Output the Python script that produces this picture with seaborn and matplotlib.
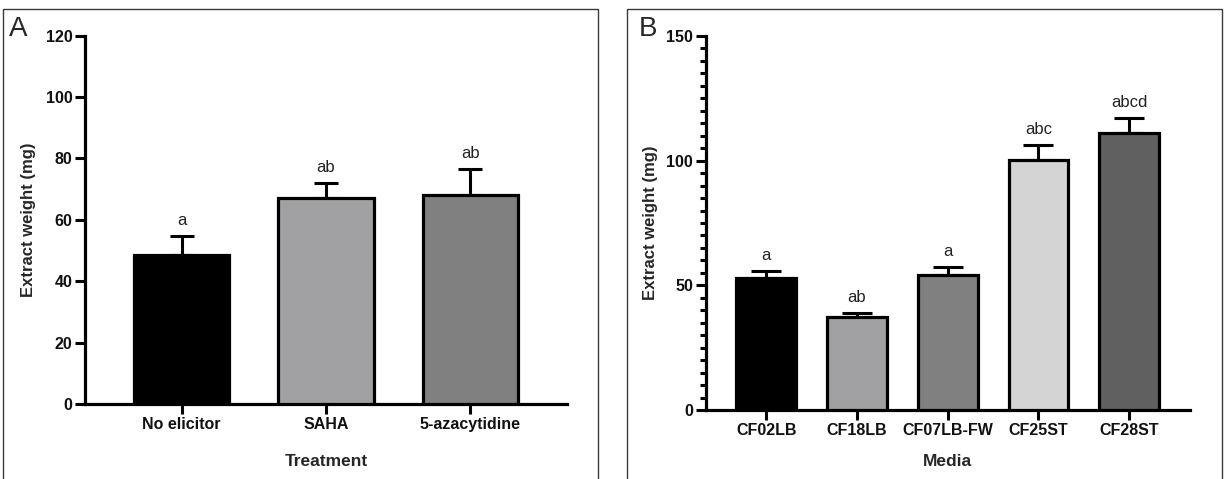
import matplotlib
matplotlib.use("Agg")
import matplotlib.pyplot as plt
from matplotlib.patches import Rectangle
from matplotlib.ticker import MultipleLocator
from matplotlib import font_manager
import seaborn as sns
import pandas as pd

# ---------------- data ----------------
treatments = ["No elicitor", "SAHA", "5-azacytidine"]
treat_means = [48.6, 67.1, 68.0]
treat_err = [6.1, 4.9, 8.7]
treat_letters = ["a", "ab", "ab"]
treat_colors = ["#000000", "#a1a0a5", "#808080"]

media = ["CF02LB", "CF18LB", "CF07LB-FW", "CF25ST", "CF28ST"]
media_means = [52.9, 37.4, 54.1, 100.4, 111.0]
media_err = [2.9, 1.6, 3.2, 5.8, 6.1]
media_letters = ["a", "ab", "a", "abc", "abcd"]
media_colors = ["#000000", "#a1a0a5", "#808080", "#d4d4d4", "#606060"]

yticks_a = [0, 20, 40, 60, 80, 100, 120]
yticks_b = [0, 50, 100, 150]

# ---------------- style ----------------
sns.set_theme(style="ticks")
names = {f.name for f in font_manager.fontManager.ttflist}
narrow = "Liberation Sans Narrow" if "Liberation Sans Narrow" in names else "Liberation Sans"
plt.rcParams["font.family"] = ["Liberation Sans", "DejaVu Sans"]

W, H = 1225, 479
fig = plt.figure(figsize=(W / 100, H / 100), dpi=100)

def px_axes(l, r, b, t):
    return [l / W, 1 - b / H, (r - l) / W, (b - t) / H]

A_BOX = (85, 567, 404.3, 35.5)
B_BOX = (705.5, 1190, 410.3, 35.7)
ax_a = fig.add_axes(px_axes(*A_BOX))
ax_b = fig.add_axes(px_axes(*B_BOX))

def draw(ax, box, cats, means, errs, letters, colors, yticks, ylabel, xlabel,
         capsize, ylab_x, xlab_y, minor=None):
    l, r, b, t = box
    df = pd.DataFrame({"cat": cats, "val": means})
    sns.barplot(data=df, x="cat", y="val", hue="cat", palette=colors, legend=False,
                width=0.66, edgecolor="black", linewidth=2.3, errorbar=None, ax=ax,
                zorder=3)
    ax.errorbar(range(len(cats)), means, yerr=[[0] * len(errs), errs], fmt="none",
                ecolor="black", elinewidth=2.2, capsize=capsize, capthick=2.2, zorder=2)
    for i, (m, e, lab) in enumerate(zip(means, errs, letters)):
        ax.annotate(lab, (i, m + e), xytext=(0, 11), textcoords="offset points",
                    ha="center", va="center", fontsize=12, color="#222222")
    ax.set_xlim(-0.67, len(cats) - 1 + 0.67)
    ax.set_ylim(yticks[0], yticks[-1])
    ax.set_yticks(yticks)
    if minor:
        ax.yaxis.set_minor_locator(MultipleLocator(minor))
        ax.tick_params(axis="y", which="minor", length=4, width=2.2, color="black")
    sns.despine(ax=ax)
    for s in ["left", "bottom"]:
        ax.spines[s].set_linewidth(2.3)
        ax.spines[s].set_color("black")
    ax.tick_params(axis="both", which="major", length=7, width=2.2, color="black",
                   labelsize=11.5, pad=2)
    for lab in ax.get_xticklabels() + ax.get_yticklabels():
        lab.set_fontfamily([narrow, "DejaVu Sans"])
        lab.set_fontweight("bold")
        lab.set_color("#111111")
    ax.set_ylabel(ylabel, fontsize=12, fontweight="bold", va="center", ha="center")
    ax.set_xlabel(xlabel, fontsize=12.5, fontweight="bold", va="center", ha="center")
    ax.yaxis.set_label_coords((ylab_x - l) / (r - l), 0.5)
    ax.xaxis.set_label_coords(0.5, (b - xlab_y) / (b - t))
    ax.yaxis.label.set_fontfamily([narrow, "DejaVu Sans"])
    ax.xaxis.label.set_fontfamily([narrow, "DejaVu Sans"])
    ax.set_facecolor("white")

draw(ax_a, A_BOX, treatments, treat_means, treat_err, treat_letters, treat_colors,
     yticks_a, "Extract weight (mg)", "Treatment", capsize=8.5, ylab_x=29, xlab_y=461)
draw(ax_b, B_BOX, media, media_means, media_err, media_letters, media_colors,
     yticks_b, "Extract weight (mg)", "Media", capsize=10.5, ylab_x=651, xlab_y=461,
     minor=5)

# panel frames
for l, r in [(3, 598), (627, 1222)]:
    fig.patches.append(Rectangle((l / W, -0.02), (r - l) / W, 1 - 9 / H + 0.02,
                                 transform=fig.transFigure, fill=False,
                                 edgecolor="#3a3a3a", linewidth=1.0))
fig.text(9 / W, 1 - 29 / H, "A", fontsize=20, va="center", ha="left")
fig.text(639 / W, 1 - 29 / H, "B", fontsize=20, va="center", ha="left")

fig.savefig("out.png", dpi=100, facecolor="white")
